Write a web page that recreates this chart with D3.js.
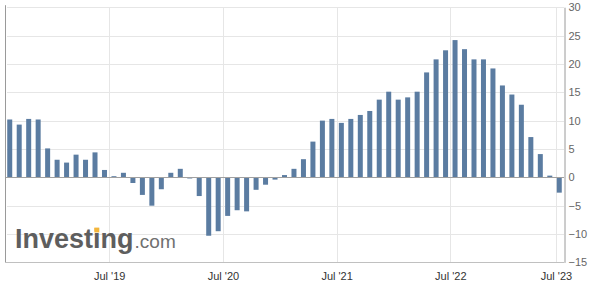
<!DOCTYPE html>
<html>
<head>
<meta charset="utf-8">
<script src="https://cdn.jsdelivr.net/npm/d3@7"></script>
<style>
  body { margin: 0; background: #fff; }
  text { font-family: "Liberation Sans", Arial, sans-serif; }
</style>
</head>
<body>
<div id="my_dataviz"></div>
<script>
// monthly periods (ordinal axis, one slot per bar)
var periods = d3.timeMonth.range(new Date(2018, 7, 1), new Date(2023, 6, 1)).map(d3.timeFormat("%b %Y"));

// YoY % change
var values = [
  10.2, 9.3, 10.3, 10.2, 5.1, 3.1, 2.6, 4.0, 3.1, 4.4,
  1.3, 0.2, 0.8, -1.0, -3.1, -5.0, -2.1, 0.8, 1.5, -0.2,
  -3.3, -10.3, -9.5, -6.8, -5.8, -6.0, -2.2, -1.3, -0.4, 0.4,
  1.5, 3.2, 6.3, 10.0, 10.3, 9.6, 10.3, 11.0, 11.7, 13.7,
  15.1, 13.7, 14.1, 15.1, 18.5, 20.8, 22.4, 24.2, 22.6, 20.8,
  20.8, 19.2, 16.2, 14.6, 12.8, 7.1, 4.1, 0.3, -2.7
];

// x tick labels and where they fall on the ordinal axis (slot units)
var tickLabels = ["Jul '19", "Jul '20", "Jul '21", "Jul '22", "Jul '23"];
var tickSlots = [11, 23, 35, 47, 58.15];

var yTicks = [30, 25, 20, 15, 10, 5, 0, -5, -10, -15];

var data = periods.map(function (p, i) { return { period: p, value: values[i], i: i }; });

var width = 594, height = 290;
var plotLeft = 5, plotRight = 564, plotTop = 7.2, plotBottom = 262.4;

var svg = d3.select("#my_dataviz")
  .append("svg")
  .attr("width", width)
  .attr("height", height);

var x = d3.scaleLinear()
  .domain([0, data.length])
  .range([plotLeft, plotRight]);

var y = d3.scaleLinear()
  .domain([-15, 30])
  .range([plotBottom, plotTop]);

// horizontal grid
svg.append("g")
  .selectAll("line")
  .data(yTicks)
  .enter()
  .append("line")
  .attr("x1", plotLeft + 2)
  .attr("x2", plotRight)
  .attr("y1", function (d) { return Math.round(y(d)) + 0.5; })
  .attr("y2", function (d) { return Math.round(y(d)) + 0.5; })
  .style("stroke", "#e6e6e6");

// vertical grid at the ticks
svg.append("g")
  .selectAll("line")
  .data(tickSlots)
  .enter()
  .append("line")
  .attr("x1", function (d) { return Math.round(x(d)) + 0.5; })
  .attr("x2", function (d) { return Math.round(x(d)) + 0.5; })
  .attr("y1", plotTop)
  .attr("y2", plotBottom)
  .style("stroke", "#e6e6e6");

// watermark
var logo = svg.append("g");
var inv = logo.append("text")
  .attr("x", 15)
  .attr("y", 248)
  .style("font-size", "27px")
  .style("font-weight", "bold")
  .style("fill", "#5e5e5e")
  .text("Investing");
var invLen = inv.node().getComputedTextLength();
logo.append("text")
  .attr("x", 15 + invLen + 1)
  .attr("y", 248)
  .style("font-size", "19px")
  .style("fill", "#707070")
  .text(".com");
var iBox = inv.node().getExtentOfChar(6);
logo.append("rect")
  .attr("x", iBox.x + iBox.width / 2 - 2.5)
  .attr("y", iBox.y + 3.6)
  .attr("width", 5)
  .attr("height", 4.8)
  .style("fill", "#f3b53b");

// bars
var bw = 5;
svg.append("g")
  .selectAll("rect")
  .data(data)
  .enter()
  .append("rect")
  .attr("x", function (d) { return x(d.i + 0.5) - bw / 2; })
  .attr("y", function (d) { return Math.min(y(d.value), y(0)); })
  .attr("width", bw)
  .attr("height", function (d) { return Math.abs(y(d.value) - y(0)); })
  .style("fill", "#5b7ca1");

// zero line
svg.append("line")
  .attr("x1", plotLeft)
  .attr("x2", plotRight)
  .attr("y1", Math.round(y(0)) + 0.5)
  .attr("y2", Math.round(y(0)) + 0.5)
  .style("stroke", "#a0a0a0");

// frame: left border, bottom
svg.append("line")
  .attr("x1", plotLeft + 0.5).attr("x2", plotLeft + 0.5)
  .attr("y1", plotTop - 2).attr("y2", plotBottom)
  .style("stroke", "#9a9a9a");
svg.append("line")
  .attr("x1", plotLeft).attr("x2", plotRight)
  .attr("y1", Math.round(plotBottom) + 0.5).attr("y2", Math.round(plotBottom) + 0.5)
  .style("stroke", "#c0c0c0");

// right y axis
var yAxis = svg.append("g")
  .attr("transform", "translate(" + (plotRight + 0.5) + ",0)")
  .call(d3.axisRight(y).tickValues(yTicks).tickSize(0).tickPadding(4));
yAxis.select(".domain").style("stroke", "#9a9a9a");
yAxis.selectAll("text")
  .style("font-size", "11px")
  .style("fill", "#666666")
  .style("font-family", "'Liberation Sans', Arial, sans-serif");

// bottom labels
var xAxis = svg.append("g")
  .attr("transform", "translate(0," + plotBottom + ")")
  .call(d3.axisBottom(x).tickValues(tickSlots)
    .tickFormat(function (d, i) { return tickLabels[i]; })
    .tickSize(0).tickPadding(10));
xAxis.select(".domain").remove();
xAxis.selectAll("text")
  .style("font-size", "11px")
  .style("fill", "#333333")
  .style("font-family", "'Liberation Sans', Arial, sans-serif");
</script>
</body>
</html>
